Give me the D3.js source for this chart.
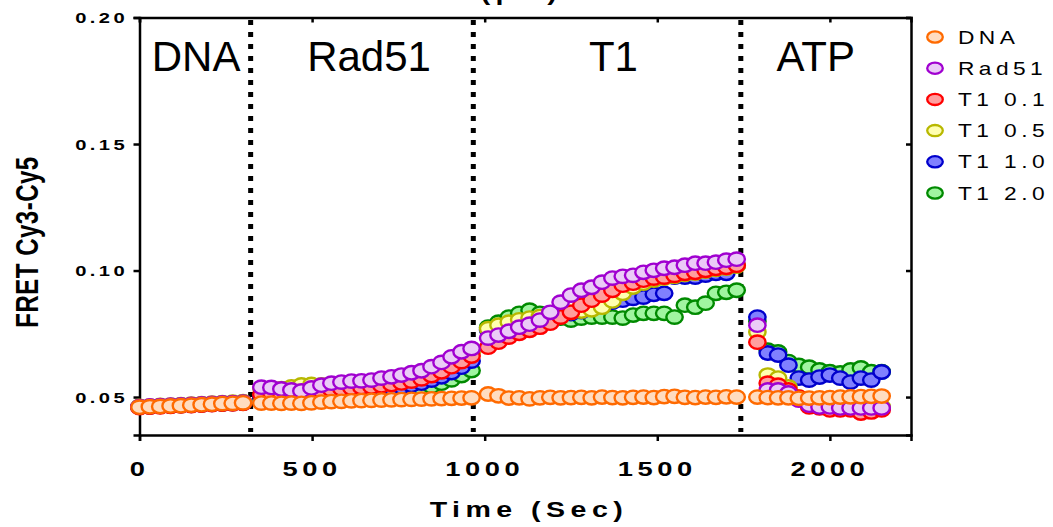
<!DOCTYPE html>
<html>
<head>
<meta charset="utf-8">
<script src="https://cdn.jsdelivr.net/npm/d3@7"></script>
<style>
  html, body { margin: 0; padding: 0; background: #fff; }
  svg { display: block; }
  text { font-family: "Liberation Sans", Arial, sans-serif; fill: #000; }
</style>
</head>
<body>
<svg id="chart" width="1053" height="527"></svg>
<script>
// Time points (s) across the four injection phases: DNA, Rad51, T1, ATP
const timeSec = [
  0,30,60,90,120,150,180,210,240,270,300,
  353,382,411,440,469,498,527,556,585,614,643,672,701,730,759,788,817,846,875,904,933,962,
  1010,1040,1070,1100,1130,1160,1190,1220,1250,1280,1310,1340,1370,1400,1430,1460,1490,1520,1550,1580,1610,1640,1670,1700,1730,
  1790,1820,1850,1880,1910,1940,1970,2000,2030,2060,2090,2120,2150
];

// FRET (Cy3-Cy5) per condition
const fretDNA = [
  0.0460,0.0462,0.0463,0.0465,0.0466,0.0468,0.0470,0.0472,0.0474,0.0475,0.0477,
  0.0476,0.0476,0.0475,0.0476,0.0475,0.0477,0.0480,0.0482,0.0483,0.0485,0.0486,0.0487,0.0488,0.0489,0.0490,0.0491,0.0492,0.0493,0.0494,0.0495,0.0496,0.0497,
  0.0512,0.0505,0.0496,0.0497,0.0493,0.0497,0.0499,0.0497,0.0498,0.0499,0.0497,0.0500,0.0498,0.0497,0.0499,0.0500,0.0498,0.0502,0.0503,0.0499,0.0498,0.0500,0.0499,0.0501,0.0500,
  0.0500,0.0498,0.0497,0.0497,0.0495,0.0496,0.0497,0.0498,0.0500,0.0501,0.0502,0.0503,0.0504
];
const fretRad51 = [
  0.0462,0.0465,0.0466,0.0468,0.0469,0.0471,0.0473,0.0475,0.0477,0.0478,0.0480,
  0.0539,0.0538,0.0532,0.0528,0.0524,0.0536,0.0547,0.0555,0.0559,0.0563,0.0564,0.0567,0.0575,0.0580,0.0587,0.0596,0.0604,0.0620,0.0637,0.0659,0.0679,0.0692,
  0.0733,0.0745,0.0760,0.0776,0.0788,0.0804,0.0835,0.0875,0.0903,0.0922,0.0934,0.0954,0.0970,0.0977,0.0981,0.0993,0.1001,0.1009,0.1013,0.1021,0.1029,0.1029,0.1033,0.1041,0.1045,
  0.0784,0.0528,0.0528,0.0516,0.0488,0.0468,0.0461,0.0461,0.0457,0.0457,0.0457,0.0457,0.0457
];
const fretT1_01 = [
  0.0458,0.0460,0.0461,0.0463,0.0465,0.0466,0.0468,0.0470,0.0472,0.0473,0.0475,
  0.0510,0.0515,0.0512,0.0515,0.0515,0.0518,0.0522,0.0528,0.0532,0.0535,0.0538,0.0540,0.0545,0.0550,0.0556,0.0563,0.0572,0.0585,0.0600,0.0620,0.0640,0.0662,
  0.0697,0.0717,0.0737,0.0752,0.0764,0.0776,0.0792,0.0816,0.0835,0.0863,0.0883,0.0903,0.0922,0.0942,0.0950,0.0962,0.0970,0.0974,0.0981,0.0989,0.0993,0.1001,0.1009,0.1013,0.1021,
  0.0717,0.0555,0.0547,0.0528,0.0500,0.0461,0.0457,0.0449,0.0449,0.0449,0.0437,0.0441,0.0449
];
const fretT1_05 = [
  0.0463,0.0464,0.0467,0.0468,0.0470,0.0472,0.0474,0.0476,0.0478,0.0480,0.0482,
  0.0535,0.0535,0.0533,0.0540,0.0548,0.0550,0.0548,0.0548,0.0552,0.0555,0.0557,0.0560,0.0565,0.0570,0.0575,0.0583,0.0592,0.0605,0.0620,0.0640,0.0660,0.0675,
  0.0770,0.0784,0.0796,0.0805,0.0812,0.0818,0.0824,0.0830,0.0835,0.0840,0.0845,0.0855,0.0880,0.0910,0.0935,0.0950,0.0962,0.0970,0.0977,0.0985,0.0990,0.0998,0.1005,0.1010,0.1018,
  0.0757,0.0587,0.0575,0.0540,0.0500,0.0475,0.0468,0.0465,0.0463,0.0462,0.0462,0.0462,0.0462
];
const fretT1_10 = [
  0.0460,0.0461,0.0463,0.0464,0.0466,0.0467,0.0469,0.0471,0.0473,0.0474,0.0476,
  0.0500,0.0502,0.0503,0.0505,0.0507,0.0510,0.0512,0.0515,0.0518,0.0520,0.0523,0.0526,0.0530,0.0535,0.0540,0.0547,0.0555,0.0567,0.0580,0.0597,0.0618,0.0642,
  0.0765,0.0780,0.0792,0.0800,0.0808,0.0815,0.0820,0.0825,0.0830,0.0838,0.0848,0.0860,0.0875,0.0883,0.0890,0.0895,0.0906,0.0910,0.0974,0.0974,0.0974,0.0982,0.0989,0.0989,0.1020,
  0.0816,0.0674,0.0666,0.0626,0.0575,0.0567,0.0579,0.0587,0.0575,0.0559,0.0575,0.0567,0.0599
];
const fretT1_20 = [
  0.0461,0.0462,0.0464,0.0466,0.0467,0.0469,0.0471,0.0472,0.0474,0.0476,0.0478,
  0.0495,0.0497,0.0498,0.0500,0.0501,0.0502,0.0503,0.0505,0.0507,0.0509,0.0511,0.0513,0.0515,0.0518,0.0522,0.0527,0.0533,0.0542,0.0555,0.0568,0.0585,0.0605,
  0.0776,0.0796,0.0816,0.0831,0.0843,0.0831,0.0824,0.0812,0.0804,0.0812,0.0816,0.0816,0.0816,0.0812,0.0824,0.0831,0.0831,0.0831,0.0816,0.0863,0.0855,0.0871,0.0910,0.0914,0.0922,
  0.0800,0.0685,0.0678,0.0640,0.0625,0.0618,0.0607,0.0600,0.0595,0.0607,0.0615,0.0600,0.0600
];

const seriesNames  = ["DNA", "Rad51", "T1 0.1", "T1 0.5", "T1 1.0", "T1 2.0"];
const seriesValues = [fretDNA, fretRad51, fretT1_01, fretT1_05, fretT1_10, fretT1_20];
const strokeColors = ["#FF6A00", "#A000D0", "#FF0000", "#B8B800", "#0000CC", "#008A00"];
const fillColors   = ["#FFDCC0", "#EBCBF7", "#FF9E9E", "#FFFFB0", "#8080FF", "#A0F5A0"];

// Injection boundaries and phase captions (time in s)
const dividerTimes   = [322, 967, 1742];
const phaseNames     = ["DNA", "Rad51", "T1", "ATP"];
const phaseLabelTime = [164, 665, 1373, 1959];

const xTicks = [0, 500, 1000, 1500, 2000];
const yTicks = [0.05, 0.10, 0.15, 0.20];

const svg = d3.select("#chart");
const plotLeft = 139.5, plotRight = 911, plotTop = 17.5, plotBottom = 435;
const SX = 1.3; // horizontal stretch of the lettering and markers

const x = d3.scaleLinear().domain([0, 2235]).range([plotLeft, plotRight]);
const y = d3.scaleLinear().domain([0.035, 0.20]).range([plotBottom, plotTop]);

// heading, running off the top edge
svg.append("text")
  .attr("transform", `translate(562,0) scale(${SX},1)`)
  .attr("text-anchor", "end")
  .style("font-weight", "bold").style("font-size", "22px").style("letter-spacing", "4px")
  .text("T1 Titration (\u03bcM)");

// frame: left and bottom axes plus mirrored top/right
const axisStyle = g => {
  g.selectAll("path.domain").attr("stroke", "#000").attr("stroke-width", 2.5);
  g.selectAll(".tick line").attr("stroke", "#000").attr("stroke-width", 2.5);
};

const gx = svg.append("g").attr("transform", `translate(0,${plotBottom})`)
  .call(d3.axisBottom(x).tickValues(xTicks).tickSizeOuter(0).tickSize(6).tickFormat(""));
axisStyle(gx);
const gy = svg.append("g").attr("transform", `translate(${plotLeft},0)`)
  .call(d3.axisLeft(y).tickValues(yTicks).tickSizeOuter(0).tickSize(6).tickFormat(""));
axisStyle(gy);
const gt = svg.append("g").attr("transform", `translate(0,${plotTop})`)
  .call(d3.axisBottom(x).tickValues(xTicks).tickSizeOuter(0).tickSize(5).tickFormat(""));
axisStyle(gt);
const gr = svg.append("g").attr("transform", `translate(${plotRight},0)`)
  .call(d3.axisLeft(y).tickValues(yTicks).tickSizeOuter(0).tickSize(5).tickFormat(""));
axisStyle(gr);

// tick labels
svg.append("g").selectAll("text").data(xTicks).join("text")
  .attr("transform", d => `translate(${x(d)},476) scale(${SX},1)`)
  .attr("text-anchor", "middle")
  .style("font-weight", "bold").style("font-size", "21px").style("letter-spacing", "3.5px")
  .text(d => d);

svg.append("g").selectAll("text").data(yTicks).join("text")
  .attr("transform", d => `translate(128,${y(d) + 5.5}) scale(${SX},1)`)
  .attr("text-anchor", "end")
  .style("font-weight", "bold").style("font-size", "15.5px").style("letter-spacing", "2.6px")
  .text(d => d3.format(".2f")(d));

// axis titles
svg.append("text")
  .attr("transform", `translate(529,517) scale(${SX},1)`)
  .attr("text-anchor", "middle")
  .style("font-weight", "bold").style("font-size", "22px").style("letter-spacing", "4.2px")
  .text("Time (Sec)");

svg.append("text")
  .attr("transform", `translate(38,242) scale(${SX},1) rotate(-90)`)
  .attr("text-anchor", "middle")
  .style("font-weight", "bold").style("font-size", "24px").style("letter-spacing", "0.5px")
  .text("FRET Cy3-Cy5");

// injection dividers
svg.append("g").selectAll("line").data(dividerTimes).join("line")
  .attr("x1", d => x(d)).attr("x2", d => x(d))
  .attr("y1", 20).attr("y2", 432)
  .attr("stroke", "#000").attr("stroke-width", 5)
  .attr("stroke-dasharray", "5 7");

// phase captions
svg.append("g").selectAll("text").data(phaseNames).join("text")
  .attr("x", (d, i) => x(phaseLabelTime[i]))
  .attr("y", 71)
  .attr("text-anchor", "middle")
  .style("font-size", "42px")
  .text(d => d);

// markers: last series drawn first so DNA sits on top
const rx = 8.2, ry = 6.7;
const order = d3.range(seriesNames.length).reverse();
order.forEach(k => {
  const pts = timeSec.map((t, i) => [t, seriesValues[k][i]]);
  svg.append("g").selectAll("ellipse").data(pts).join("ellipse")
    .attr("cx", d => x(d[0]))
    .attr("cy", d => y(d[1]))
    .attr("rx", rx).attr("ry", ry)
    .attr("fill", fillColors[k])
    .attr("stroke", strokeColors[k])
    .attr("stroke-width", 2.4);
});

// legend
const legend = svg.append("g");
const legendRow = d3.scaleLinear().domain([0, 5]).range([37, 193]);
seriesNames.forEach((name, k) => {
  const cy = legendRow(k);
  legend.append("ellipse")
    .attr("cx", 935).attr("cy", cy)
    .attr("rx", 7.8).attr("ry", 5.6)
    .attr("fill", fillColors[k]).attr("stroke", strokeColors[k]).attr("stroke-width", 2.3);
  legend.append("text")
    .attr("transform", `translate(958,${cy + 6.5}) scale(${SX},1)`)
    .style("font-size", "17.5px").style("letter-spacing", "3.4px")
    .text(name);
});
</script>
</body>
</html>
